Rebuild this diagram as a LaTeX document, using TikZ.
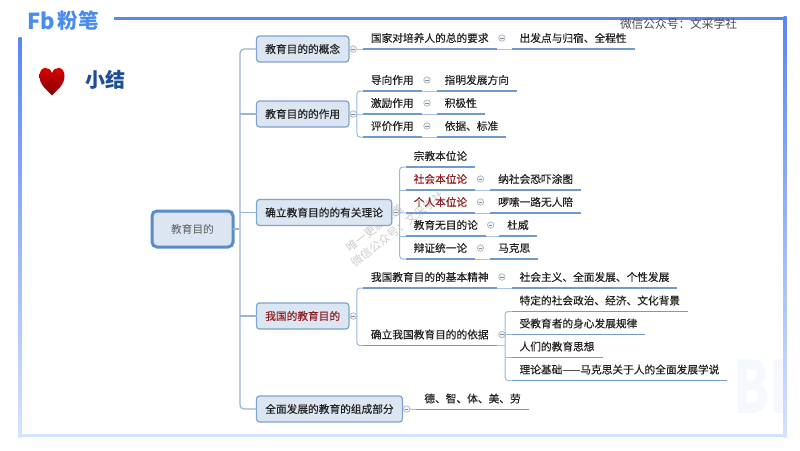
\documentclass[tikz,border=0pt]{standalone}
\usepackage{fontspec}
\setmainfont{Noto Sans CJK SC}[FakeBold=0.35]
\setsansfont{Noto Sans CJK SC}
\newfontfamily\plainfont{Noto Sans CJK SC}
\usetikzlibrary{shapes,arrows,positioning}

\definecolor{frameblue}{HTML}{5B85F5}
\definecolor{framepale}{HTML}{D6E3FD}
\definecolor{logoblue}{HTML}{4A8BF0}
\definecolor{titleblue}{HTML}{1F4E96}
\definecolor{boxfill}{HTML}{DCE6F2}
\definecolor{boxline}{HTML}{7EA3CE}
\definecolor{rootline}{HTML}{5B8CC8}
\definecolor{underblue}{HTML}{6F9BD1}
\definecolor{linkblue}{HTML}{A6C2E4}
\definecolor{keyred}{HTML}{8E1F22}
\definecolor{inkgray}{HTML}{222222}

\begin{document}
\begin{tikzpicture}[x=1pt,y=-1pt]
    \tikzset{
        every node/.style = {outer sep=0pt, text=inkgray, font=\fontsize{10.7}{12}\selectfont},
        root/.style = {rectangle, draw=rootline, fill=boxfill, line width=3pt, rounded corners=5pt, minimum width=81pt, minimum height=36pt, text=black!65},
        topic/.style = {rectangle, draw=boxline, fill=boxfill, line width=1.2pt, rounded corners=3pt, inner xsep=8.75pt, inner ysep=0pt, minimum height=26pt},
        leaf/.style = {rectangle, inner xsep=8pt, inner ysep=0pt, minimum height=22pt},
        fold/.style = {circle, draw=linkblue!70!black!60, fill=boxfill!40, line width=0.7pt, inner sep=0pt, minimum size=6.5pt,
            path picture={\draw[black!45, line width=0.5pt] ([xshift=1.5pt]path picture bounding box.west) -- ([xshift=-1.5pt]path picture bounding box.east);}},
        under/.style = {draw=underblue, line width=1.7pt},
        link/.style = {draw=linkblue, line width=1pt},
        bracket/.style = {draw=linkblue!80!underblue, line width=1pt, rounded corners=3pt},
        trunk/.style = {draw=boxline!80!white, line width=1.2pt, rounded corners=4pt},
        stamp/.style = {text=black!20, font=\plainfont\fontsize{11.4}{12}\selectfont, rotate=38},
    }

    \useasboundingbox (0,0) rectangle (800,450);
    \fill[white] (0,0) rectangle (800,450);

    % background marks
    \node[text=frameblue!6, font=\fontsize{72}{72}\sffamily\bfseries\selectfont, xscale=0.72, transform shape, anchor=west](stampbi) at (731,387){BI};
    \node[stamp](stampone) at (375,228){唯一更新渠道};
    \node[stamp](stamptwo) at (398,229){微信公众号：文采学社};

    % frame
    \fill[frameblue] (114,16.5) rectangle (786.5,20);
    \shade[top color=frameblue, bottom color=framepale] (18.5,37) rectangle (21.5,437);
    \shade[top color=frameblue, bottom color=framepale] (783.5,16.5) rectangle (786.5,437);
    \fill[framepale] (18.5,433.5) rectangle (786.5,437);

    % header
    \node[text=logoblue, font=\fontsize{22}{22}\sffamily\bfseries\selectfont](logofb) at (41,21){Fb};
    \node[text=logoblue, font=\fontsize{20.5}{22}\sffamily\bfseries\selectfont](logocn)[right = -3.9pt of logofb]{粉笔};
    \node[text=black!70, font=\plainfont\fontsize{11.7}{12}\selectfont](account) at (678.5,24.5){微信公众号：文采学社};
    \shade[top color=red!88!black, bottom color=red!50!black] (52,95.5)
        .. controls (47,90) and (39.5,85) .. (39.5,76)
        .. controls (39.5,66) and (49.5,65.5) .. (52,73)
        .. controls (54.5,65.5) and (64.5,66) .. (64.5,76)
        .. controls (64.5,85) and (57,90) .. (52,95.5);
    \node[text=titleblue, font=\fontsize{20}{22}\sffamily\bfseries\selectfont](title) at (105,80){小结};

    % map
    \node[root](aim) at (192.5,229){\plainfont 教育目的};

    \node[topic](concept)[right = 23.5pt of aim, yshift=180pt]{教育目的的概念};
    \node[topic](role)[right = 23.5pt of aim, yshift=115pt]{教育目的的作用};
    \node[topic](theory)[right = 23.5pt of aim, yshift=16.5pt]{确立教育目的的有关理论};
    \node[topic](china)[right = 23.5pt of aim, yshift=-87pt]{\textcolor{keyred}{我国的教育目的}};
    \node[topic](whole)[right = 23.5pt of aim, yshift=-180pt]{全面发展的教育的组成部分};

    \path [trunk] (concept.west) -- ++(-16.5,0) |- (whole.west);
    \path [trunk] (aim.east) -- ++(6,0);
    \path [trunk] (role.west) -- ++(-16.5,0);
    \path [trunk] (theory.west) -- ++(-16.5,0);
    \path [trunk] (china.west) -- ++(-16.5,0);

    % concept
    \node[leaf](demand)[right = 14pt of concept, yshift=11pt]{国家对培养人的总的要求};
    \node[leaf](origin)[right = 15pt of demand]{出发点与归宿、全程性};
    \node[fold](foldconcept)[right = 1pt of concept]{};
    \node[fold](folddemand)[right = 2pt of demand]{};
    \path [link] (foldconcept) -- (demand.south west);
    \path [link] (demand.south east) -- (origin.south west);

    % role
    \node[leaf](guide)[right = 14pt of role, yshift=34pt]{导向作用};
    \node[leaf](excite)[below = 1pt of guide]{激励作用};
    \node[leaf](assess)[below = 1pt of excite]{评价作用};
    \node[leaf](direction)[right = 15pt of guide]{指明发展方向};
    \node[leaf](positive)[right = 15pt of excite]{积极性};
    \node[leaf](basis)[right = 15pt of assess]{依据、标准};
    \node[fold](foldrole)[right = 1pt of role]{};
    \node[fold](foldguide)[right = 2pt of guide]{};
    \node[fold](foldexcite)[right = 2pt of excite]{};
    \node[fold](foldassess)[right = 2pt of assess]{};
    \path [bracket] (guide.south west) -- ++(-6,0) |- (assess.south west);
    \path [link] (foldrole) -- (excite.south west);
    \path [link] (guide.south east) -- (direction.south west);
    \path [link] (excite.south east) -- (positive.south west);
    \path [link] (assess.south east) -- (basis.south west);

    % theory
    \node[leaf](religion)[right = 14pt of theory, yshift=56.5pt]{宗教本位论};
    \node[leaf](society)[below = 1pt of religion]{\textcolor{keyred}{社会本位论}};
    \node[leaf](person)[below = 1pt of society]{\textcolor{keyred}{个人本位论}};
    \node[leaf](noaim)[below = 1pt of person.south west, anchor=north west]{教育无目的论};
    \node[leaf](unity)[below = 1pt of noaim.south west, anchor=north west]{辩证统一论};
    \node[leaf](scare)[right = 15pt of society]{纳社会恐吓涂图};
    \node[leaf](alone)[right = 15pt of person]{啰嗦一路无人陪};
    \node[leaf, minimum width=38pt](dewey)[right = 13pt of noaim]{杜威};
    \node[leaf, minimum width=47pt](marx)[right = 15pt of unity]{马克思};
    \node[fold](foldtheory)[right = 1pt of theory]{};
    \node[fold](foldsociety)[right = 2pt of society]{};
    \node[fold](foldperson)[right = 2pt of person]{};
    \node[fold](foldnoaim)[right = 1.5pt of noaim]{};
    \node[fold](foldunity)[right = 2pt of unity]{};
    \path [bracket] (religion.south west) -- ++(-6,0) |- (unity.south west);
    \path [link] (foldtheory) -- (person.south west);
    \path [bracket] (society.south west) -- ++(-6,0);
    \path [bracket] (noaim.south west) -- ++(-6,0);
    \path [link] (society.south east) -- (scare.south west);
    \path [link] (person.south east) -- (alone.south west);
    \path [link] (noaim.south east) -- (dewey.south west);
    \path [link] (unity.south east) -- (marx.south west);

    % china
    \node[leaf](spirit)[right = 14pt of china, yshift=39pt]{我国教育目的的基本精神};
    \node[leaf](ground)[right = 14pt of china, yshift=-18.5pt]{确立我国教育目的的依据};
    \node[leaf](socialism)[right = 15pt of spirit]{社会主义、全面发展、个性发展};
    \node[leaf](context)[right = 15pt of ground, yshift=34pt]{特定的社会政治、经济、文化背景};
    \node[leaf](growth)[below = 1pt of context.south west, anchor=north west]{受教育者的身心发展规律};
    \node[leaf](thought)[below = 1pt of growth.south west, anchor=north west]{人们的教育思想};
    \node[leaf](marxism)[below = 1pt of thought.south west, anchor=north west]{理论基础——马克思关于人的全面发展学说};
    \node[fold](foldchina)[right = 1pt of china]{};
    \node[fold](foldspirit)[right = 2pt of spirit]{};
    \node[fold](foldground)[right = 2pt of ground]{};
    \path [bracket] (spirit.south west) -- ++(-6,0) |- (ground.south west);
    \path [link] (foldchina) -- ++(5,0);
    \path [link] (spirit.south east) -- (socialism.south west);
    \path [bracket] (context.south west) -- ++(-6.5,0) |- (marxism.south west);
    \path [link] (ground.south east) -- ++(8,0);
    \path [bracket] (growth.south west) -- ++(-6.5,0);
    \path [bracket] (thought.south west) -- ++(-6.5,0);

    % whole
    \node[leaf](parts)[right = 14pt of whole, yshift=10.5pt]{德、智、体、美、劳};
    \node[fold](foldwhole)[right = 1pt of whole]{};
    \path [link] (foldwhole) -- (parts.south west);

    % underlines
    \foreach \leafname in {demand,origin,guide,excite,assess,direction,positive,basis,
        religion,society,person,noaim,unity,scare,alone,dewey,marx,
        spirit,ground,socialism,context,growth,thought,marxism,parts}
        \path [under] (\leafname.south west) -- (\leafname.south east);
\end{tikzpicture}
\end{document}
